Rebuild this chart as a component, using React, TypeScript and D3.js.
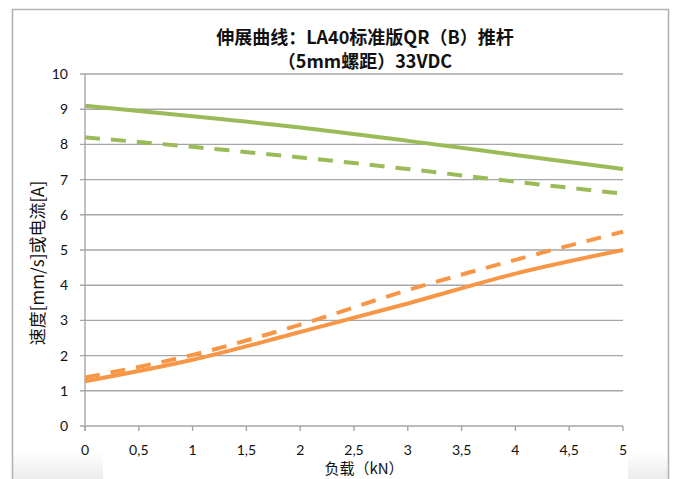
import React from "react";
import * as d3 from "d3";

const loads = [0, 1, 2, 3, 4, 5];
const speedSolid = [9.1, 8.8, 8.48, 8.1, 7.7, 7.3];
const speedDashed = [8.2, 7.93, 7.63, 7.3, 6.94, 6.6];
const currentSolid = [1.27, 1.88, 2.67, 3.48, 4.33, 5.0];
const currentDashed = [1.38, 2.02, 2.88, 3.86, 4.72, 5.52];
const xTicks = [0, 0.5, 1, 1.5, 2, 2.5, 3, 3.5, 4, 4.5, 5];
const yTicks = [0, 1, 2, 3, 4, 5, 6, 7, 8, 9, 10];
const titleLines = ["伸展曲线：LA40标准版QR（B）推杆", "（5mm螺距）33VDC"];
const xTitle = "负载（kN）";
const yTitle = "速度[mm/s]或电流[A]";

const GREEN = "#9bbb59";
const ORANGE = "#f79646";

export default function App() {
  const W = 675, H = 479;
  const x = d3.scaleLinear().domain([0, 5]).range([85, 623]);
  const y = d3.scaleLinear().domain([0, 10]).range([426, 74]);
  const line = d3
    .line<number>()
    .x((_, i) => x(loads[i]))
    .y((d) => y(d))
    .curve(d3.curveMonotoneX);

  const series = [
    { vals: speedSolid, color: GREEN, dash: undefined },
    { vals: speedDashed, color: GREEN, dash: "15 11" },
    { vals: currentSolid, color: ORANGE, dash: undefined },
    { vals: currentDashed, color: ORANGE, dash: "15 11" },
  ];

  const fmt = (v: number) => String(v).replace(".", ",");
  const tickFont = "Lato, 'Open Sans', sans-serif";
  const cjk = "'Noto Sans CJK SC', 'Noto Sans', sans-serif";

  return (
    <svg
      width={W}
      height={H}
      style={{ position: "absolute", left: 0, top: 0, background: "#fff" }}
    >
      <defs>
        <linearGradient id="fade" x1="0" y1="0" x2="0" y2="1">
          <stop offset="0" stopColor="#ffffff" />
          <stop offset="1" stopColor="#ececec" />
        </linearGradient>
      </defs>
      {/* bottom faded areas */}
      <rect x={13} y={452} width={90} height={27} fill="url(#fade)" />
      <rect x={628} y={452} width={40} height={27} fill="url(#fade)" />
      {/* outer frame */}
      <path d="M12.5,479 V9.5 H668.5 V479" fill="none" stroke="#b3b3b3" strokeWidth={1.6} />

      {/* gridlines */}
      {yTicks.map((t) => (
        <line
          key={"g" + t}
          x1={x(0) - 5}
          x2={x(5)}
          y1={y(t)}
          y2={y(t)}
          stroke="#a6a6a6"
          strokeWidth={1.4}
        />
      ))}
      {/* y axis */}
      <line x1={x(0)} x2={x(0)} y1={y(10)} y2={y(0) + 5} stroke="#a6a6a6" strokeWidth={1.4} />
      {/* x ticks */}
      {xTicks.map((t) => (
        <line
          key={"xt" + t}
          x1={x(t)}
          x2={x(t)}
          y1={y(0)}
          y2={y(0) + 5}
          stroke="#a6a6a6"
          strokeWidth={1.4}
        />
      ))}
      {/* y tick labels */}
      {yTicks.map((t) => (
        <text
          key={"yl" + t}
          x={68}
          y={y(t)}
          dy="0.35em"
          textAnchor="end"
          fontFamily={tickFont}
          fontSize={14}
          fill="#111"
        >
          {t}
        </text>
      ))}
      {/* x tick labels */}
      {xTicks.map((t) => (
        <text
          key={"xl" + t}
          x={x(t)}
          y={450}
          dy="0.35em"
          textAnchor="middle"
          fontFamily={tickFont}
          fontSize={14}
          fill="#111"
        >
          {fmt(t)}
        </text>
      ))}

      {/* series */}
      {series.map((s, i) => (
        <path
          key={"s" + i}
          d={line(s.vals) || ""}
          fill="none"
          stroke={s.color}
          strokeWidth={4}
          strokeDasharray={s.dash}
          strokeLinejoin="round"
        />
      ))}

      {/* title */}
      {titleLines.map((l, i) => (
        <text
          key={"t" + i}
          x={365}
          y={38 + i * 24}
          dy="0.35em"
          textAnchor="middle"
          fontFamily={cjk}
          fontWeight="bold"
          fontSize={18}
          fill="#111"
        >
          {l}
        </text>
      ))}
      {/* axis titles */}
      <text
        x={364}
        y={469}
        dy="0.35em"
        textAnchor="middle"
        fontFamily={cjk}
        fontSize={15}
        fill="#111"
      >
        {xTitle}
      </text>
      <text
        transform={`translate(38,263) rotate(-90)`}
        dy="0.35em"
        textAnchor="middle"
        fontFamily={cjk}
        fontSize={17}
        fill="#111"
      >
        {yTitle}
      </text>
    </svg>
  );
}
